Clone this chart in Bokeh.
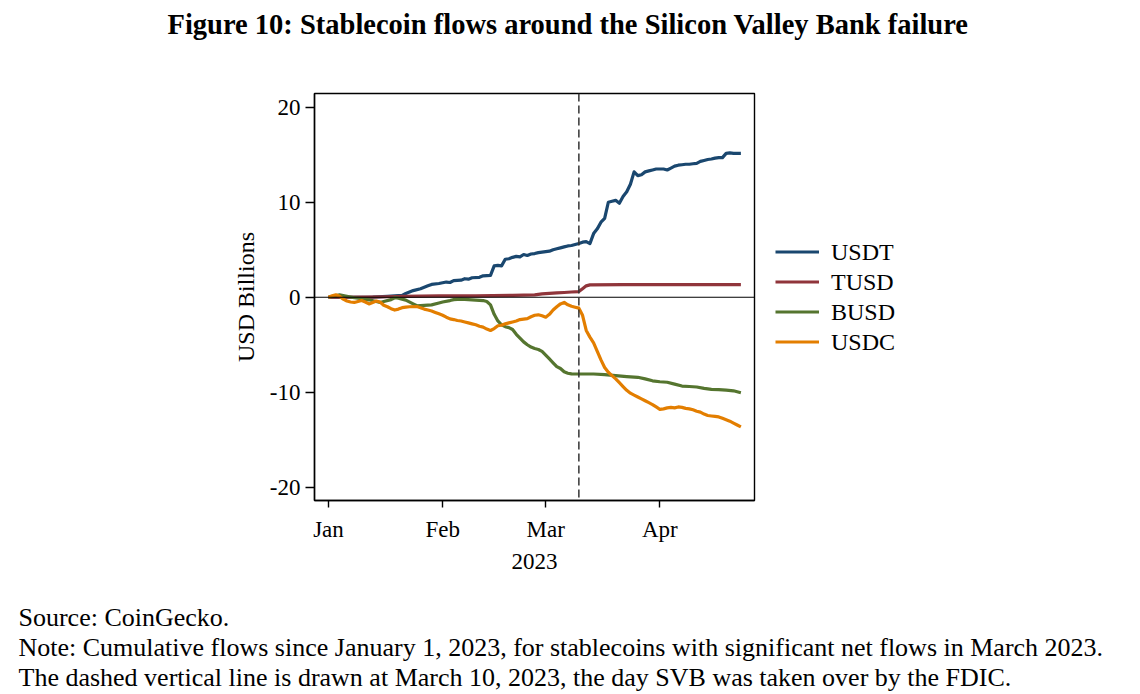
import pandas as pd
from bokeh.plotting import figure
from bokeh.layouts import column
from bokeh.models import (Range1d, FixedTicker, DatetimeTickFormatter, Span, Legend, LegendItem)
from bokeh.core.properties import value
from bokeh.embed import file_html
from bokeh.resources import INLINE

# ---------------- data (days since 2023-01-01, USD billions) ----------------
series_names = ["USDT", "TUSD", "BUSD", "USDC"]
series_colors = ["#1a476f", "#90353b", "#55752f", "#e37e00"]

usdt_day = [0, 4, 8, 12, 16, 18, 20, 21, 23, 25, 27, 28, 30, 32, 33, 34, 36, 37, 38, 39, 41, 42, 44,
            45, 46, 47, 48, 49, 50, 51, 52, 53, 54, 55, 56, 57, 58, 60, 61, 62, 63, 64, 65, 66, 67,
            68, 69, 70, 71, 72, 73, 74, 75, 76, 77, 78, 79, 80, 81, 82, 83, 84, 85, 86, 87, 88, 89,
            90, 91, 92, 93, 94, 95, 96, 97, 98, 99, 100, 101, 102, 103, 104, 105, 106, 107, 108,
            109, 110, 112]
usdt_val = [0, 0, 0, 0.02, 0.1, 0.15, 0.2, 0.4, 0.7, 0.9, 1.2, 1.35, 1.45, 1.6, 1.55, 1.75, 1.8,
            1.95, 1.9, 2.05, 2.1, 2.25, 2.3, 3.3, 3.35, 3.3, 4.0, 4.05, 4.2, 4.3, 4.25, 4.5, 4.4,
            4.55, 4.6, 4.7, 4.75, 4.85, 5.0, 5.1, 5.2, 5.3, 5.4, 5.45, 5.55, 5.65, 5.8, 5.85, 5.65,
            6.7, 7.2, 7.9, 8.3, 10.0, 10.1, 10.2, 9.9, 10.6, 11.1, 11.9, 13.2, 12.8, 12.9, 13.2,
            13.3, 13.4, 13.5, 13.5, 13.5, 13.4, 13.6, 13.8, 13.9, 13.95, 14.0, 14.0, 14.05, 14.1,
            14.3, 14.4, 14.5, 14.55, 14.65, 14.7, 14.7, 15.15, 15.2, 15.15, 15.15]

tusd_day = [0, 10, 16, 20, 30, 40, 50, 56, 58, 60, 62, 64, 66, 68, 69, 70, 71, 80, 90, 100, 112]
tusd_val = [0, 0.02, 0.05, 0.1, 0.15, 0.15, 0.2, 0.25, 0.35, 0.4, 0.45, 0.5, 0.55, 0.6, 0.9, 1.2,
            1.3, 1.32, 1.33, 1.33, 1.33]

busd_day = [0, 2, 3, 5, 7, 9, 11, 13, 14, 15, 17, 18, 19, 21, 23, 24, 26, 28, 30, 31, 33, 34, 36,
            38, 40, 42, 43, 44, 45, 46, 47, 48, 49, 50, 51, 52, 53, 54, 55, 56, 57, 58, 59, 60, 61,
            62, 63, 64, 65, 66, 68, 72, 75, 78, 81, 84, 86, 88, 90, 92, 94, 96, 98, 100, 102, 104,
            106, 108, 110, 112]
busd_val = [0, 0.15, 0.25, 0.1, -0.05, -0.15, -0.27, -0.45, -0.55, -0.45, -0.25, -0.05, -0.1,
            -0.3, -0.7, -0.9, -0.85, -0.8, -0.6, -0.5, -0.35, -0.25, -0.2, -0.25, -0.3, -0.35,
            -0.45, -0.8, -1.8, -2.5, -2.9, -3.1, -3.2, -3.4, -3.9, -4.3, -4.7, -5.0, -5.25, -5.4,
            -5.5, -5.7, -6.1, -6.5, -6.9, -7.3, -7.5, -7.85, -8.0, -8.07, -8.08, -8.08, -8.15,
            -8.25, -8.35, -8.43, -8.6, -8.8, -8.9, -8.95, -9.15, -9.35, -9.4, -9.45, -9.6, -9.7,
            -9.72, -9.78, -9.85, -10.05]

usdc_day = list(range(0, 23)) + list(range(24, 113))
usdc_val = [0, 0.15, 0.25, 0.1, -0.2, -0.4, -0.5, -0.55, -0.45, -0.35, -0.5, -0.7, -0.55, -0.4,
            -0.5, -0.85, -1.0, -1.2, -1.35, -1.25, -1.1, -1.05, -1.0,
            -0.98, -1.1, -1.25, -1.35, -1.45, -1.6, -1.75, -1.9, -2.1, -2.28, -2.35, -2.45, -2.5,
            -2.6, -2.7, -2.8, -2.9, -3.05, -3.15, -3.35, -3.5, -3.3, -3.0, -2.95, -2.8, -2.7,
            -2.6, -2.5, -2.35, -2.3, -2.25, -2.05, -1.9, -1.85, -1.95, -2.1, -1.8, -1.35, -1.0,
            -0.7, -0.55, -0.8, -0.95, -1.05, -1.15, -1.9, -3.5, -4.2, -4.8, -5.7, -6.6, -7.4,
            -7.9, -8.25, -8.6, -9.0, -9.4, -9.8, -10.1, -10.3, -10.5, -10.7, -10.9, -11.1, -11.3,
            -11.55, -11.8, -11.75, -11.65, -11.6, -11.65, -11.55, -11.6, -11.7, -11.75, -11.85,
            -12.0, -12.1, -12.3, -12.45, -12.5, -12.55, -12.6, -12.75, -12.9, -13.05, -13.25,
            -13.45, -13.65]

y_ticks = [-20, -10, 0, 10, 20]
y_tick_labels = ["-20", "-10", "0", "10", "20"]
month_ticks = ["2023-01-01", "2023-02-01", "2023-03-01", "2023-04-01"]
svb_date = "2023-03-10"
start_date = "2023-01-01"

title_text = "Figure 10: Stablecoin flows around the Silicon Valley Bank failure"
source_text = "Source: CoinGecko."
note_lines = [
    "Note: Cumulative flows since January 1, 2023, for stablecoins with significant net flows in March 2023.",
    "The dashed vertical line is drawn at March 10, 2023, the day SVB was taken over by the FDIC.",
]

# ---------------- layout constants ----------------
FONT = "Liberation Serif"
W = 1140
H_T, H_M, H_N = 60, 540, 94          # title strip, main chart, notes strip
base = pd.Timestamp(start_date)


def to_dt(days):
    return [base + pd.Timedelta(days=d) for d in days]


def text_strip(height):
    f = figure(width=W, height=height, output_backend="svg", toolbar_location=None,
               x_range=Range1d(0, W), y_range=Range1d(height, 0),
               x_axis_type=None, y_axis_type=None, min_border=0, frame_align=False)
    f.outline_line_color = None
    f.xgrid.visible = False
    f.ygrid.visible = False
    f.background_fill_color = "white"
    f.border_fill_color = "white"
    return f


# ---------------- title strip ----------------
ft = text_strip(H_T)
ft.text(x=[567.5], y=[24], text=[title_text], text_font=value(FONT), text_font_size="28.5px",
        text_font_style="bold", text_align="center", text_baseline="middle",
        text_color="black")

# ---------------- main chart ----------------
FL, FR, FT, FB = 314, 754, 93 - H_T, 500 - H_T

p = figure(frame_width=FR - FL, frame_height=FB - FT, output_backend="svg",
           toolbar_location=None, frame_align=False,
           x_axis_type="datetime",
           x_range=Range1d(base - pd.Timedelta(days=3.8), base + pd.Timedelta(days=115.7)),
           y_range=Range1d(-21.4, 21.45),
           min_border_left=FL, min_border_right=W - FR, min_border_top=FT,
           min_border_bottom=H_M - FB)
p.background_fill_color = "white"
p.border_fill_color = "white"
p.outline_line_color = "black"
p.outline_line_width = 1.4
p.xgrid.visible = False
p.ygrid.visible = False

p.yaxis.ticker = FixedTicker(ticks=y_ticks)
p.yaxis.major_label_overrides = {t: s for t, s in zip(y_ticks, y_tick_labels)}
p.yaxis.minor_tick_line_color = None
p.yaxis.major_tick_out = 9
p.yaxis.major_tick_in = 0
p.yaxis.major_label_standoff = 5
p.yaxis.axis_label = "USD Billions"
p.yaxis.axis_label_standoff = 8

p.xaxis.ticker = FixedTicker(ticks=[pd.Timestamp(t).value / 1e6 for t in month_ticks])
p.xaxis.formatter = DatetimeTickFormatter(microseconds="%b", milliseconds="%b", seconds="%b",
                                          minsec="%b", minutes="%b", hourmin="%b", hours="%b",
                                          days="%b", months="%b", years="%b")
p.xaxis.minor_tick_line_color = None
p.xaxis.major_tick_out = 7
p.xaxis.major_tick_in = 0
p.xaxis.major_label_standoff = 9
p.xaxis.axis_label = "2023"
p.xaxis.axis_label_standoff = 9

for ax in (p.xaxis, p.yaxis):
    ax.axis_line_color = "black"
    ax.axis_line_width = 1.4
    ax.major_tick_line_color = "black"
    ax.major_tick_line_width = 1.4
    ax.major_label_text_font = FONT
    ax.major_label_text_font_size = "23px"
    ax.major_label_text_color = "black"
    ax.axis_label_text_font = FONT
    ax.axis_label_text_font_size = "23px"
    ax.axis_label_text_font_style = "normal"
    ax.axis_label_text_color = "black"
p.yaxis.axis_label_text_font_size = "24px"

p.add_layout(Span(location=0, dimension="width", line_color="black", line_width=1.2))
p.add_layout(Span(location=pd.Timestamp(svb_date).value / 1e6, dimension="height",
                  line_color="#333333", line_width=1.5, line_dash="8 4"))

all_days = [usdt_day, tusd_day, busd_day, usdc_day]
all_vals = [usdt_val, tusd_val, busd_val, usdc_val]
items = []
for name, col, d, v in zip(series_names, series_colors, all_days, all_vals):
    r = p.line(to_dt(d), v, line_color=col, line_width=3.2, line_join="round")
    items.append(LegendItem(label=name, renderers=[r]))

legend = Legend(items=items, location="left", orientation="vertical",
                glyph_width=44, glyph_height=20, label_height=20, label_standoff=12,
                spacing=3, padding=0, margin=21, border_line_color=None,
                background_fill_alpha=0,
                label_text_font=FONT, label_text_font_size="24px", label_text_color="black")
p.add_layout(legend, "right")

# ---------------- notes strip ----------------
off = H_T + H_M
fn = text_strip(H_N)
fn.text(x=[18], y=[617 - off], text=[source_text], text_font=value(FONT),
        text_font_size="26px", text_align="left", text_baseline="middle",
        text_color="black")
fn.text(x=[18, 18], y=[647 - off, 677 - off], text=note_lines,
        text_font=value(FONT), text_font_size="26px", text_align="left",
        text_baseline="middle", text_color="black")

layout = column(ft, p, fn, spacing=0)
open("out.html", "w").write(file_html(layout, INLINE))
